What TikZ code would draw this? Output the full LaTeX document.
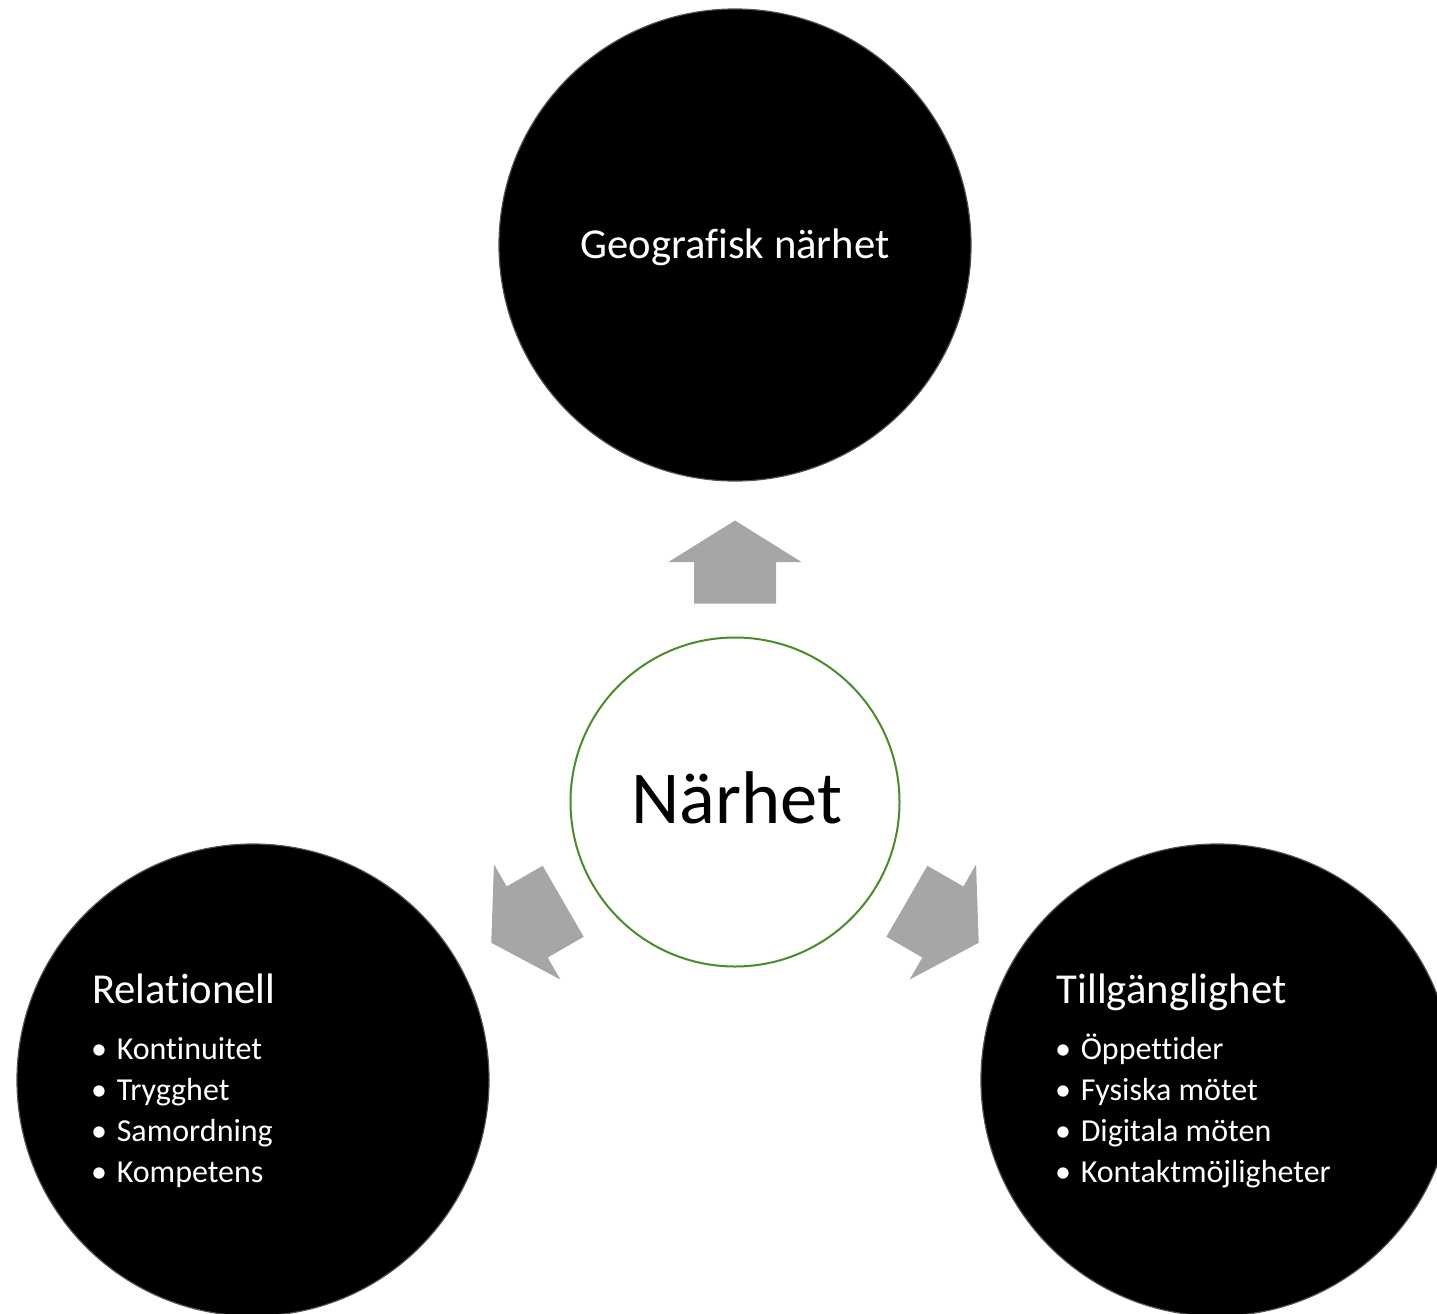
\documentclass[tikz,border=0pt]{standalone}
\usepackage{fontspec}
\setmainfont{Carlito}[Ligatures=NoCommon, RawFeature={-clig}]
\definecolor{arrowgray}{HTML}{A6A6A6}
\definecolor{ringgreen}{HTML}{4A8C2A}
\definecolor{rimgray}{HTML}{505050}
\begin{document}
\begin{tikzpicture}[x=0.75pt,y=-0.75pt,
  darkcirc/.style={circle, fill=black, draw=rimgray, line width=0.9pt, minimum size=354pt, inner sep=0pt},
  centercirc/.style={circle, fill=white, draw=ringgreen, line width=1.5pt, minimum size=246.75pt, inner sep=0pt},
  titletext/.style={text=white, inner sep=0pt, font=\fontsize{32}{38}\selectfont},
  itemtext/.style={text=white, inner sep=0pt, anchor=base west, font=\fontsize{24}{29}\selectfont},
  bullettext/.style={text=white, inner sep=0pt, anchor=base, font=\fontsize{24}{29}\selectfont},
  blockarrow/.style={fill=arrowgray}
]
\useasboundingbox (0,0) rectangle (1437,1313);
\clip (0,0) rectangle (1437,1313);

% outer circles
\node[darkcirc] (geo) at (735,245) {};
\node[darkcirc] (rel) at (253,1080) {};
\node[darkcirc] (till) at (1217,1080) {};

% center circle
\node[centercirc] (nar) at (735,802) {};
\node[inner sep=0pt, anchor=base, font=\fontsize{56}{62}\selectfont] (nartext) at (736.5,823) {Närhet};

% block arrows
\foreach \ang/\cx/\cy/\nm in {90/735/562/up, 210/527.2/922/ll, 330/942.8/922/lr}{
  \fill[blockarrow, shift={(\cx,\cy)}, rotate=\ang]
    (-41.5,-41) -- (0,-41) -- (0,-66.5) -- (41.5,0) -- (0,66.5) -- (0,41) -- (-41.5,41) -- cycle;
  \coordinate (arrow-\nm) at (\cx,\cy);
}

% top text
\node[titletext, anchor=base] (geotext) at (735,258) {Geografisk närhet};

% left circle text
\node[titletext, anchor=base west] (reltitle) at (92,1003) {Relationell};
\foreach \t [count=\i] in {Kontinuitet, Trygghet, Samordning, Kompetens}{
  \node[bullettext] (relb\i) at (99,{1059+41*(\i-1)}) {\textbullet};
  \node[itemtext] (reli\i) at (116.5,{1059+41*(\i-1)}) {\t};
}

% right circle text
\node[titletext, anchor=base west] (tilltitle) at (1056.5,1003) {Tillgänglighet};
\foreach \t [count=\i] in {Öppettider, Fysiska mötet, Digitala möten, Kontaktmöjligheter}{
  \node[bullettext] (tillb\i) at (1063,{1059+41*(\i-1)}) {\textbullet};
  \node[itemtext] (tilli\i) at (1080.5,{1059+41*(\i-1)}) {\t};
}
\end{tikzpicture}
\end{document}
